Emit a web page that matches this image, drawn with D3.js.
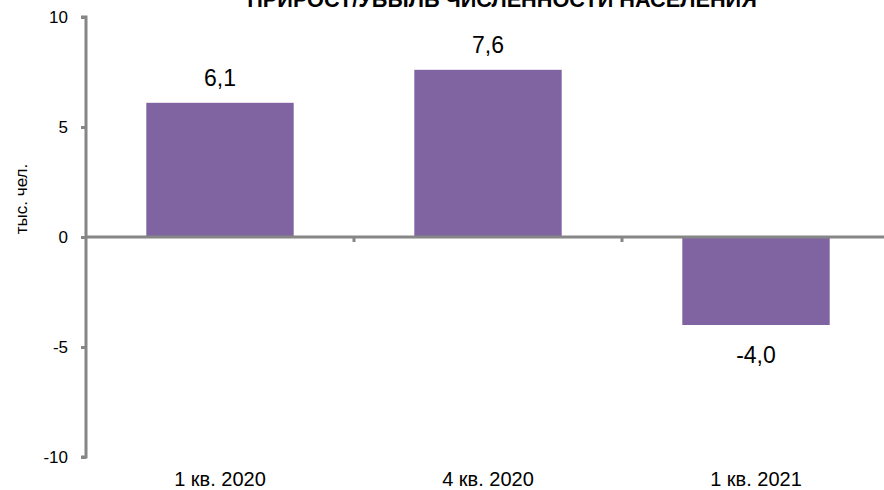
<!DOCTYPE html>
<html><head><meta charset="utf-8">
<script src="https://cdn.jsdelivr.net/npm/d3@7"></script>
<style>body{margin:0;background:#fff}svg{display:block}</style>
</head><body>
<script>
const categories = ["1 кв. 2020", "4 кв. 2020", "1 кв. 2021"];
const values = [6.1, 7.6, -4.0];
const yTicks = [-10, -5, 0, 5, 10];
const title = "ПРИРОСТ/УБЫЛЬ ЧИСЛЕННОСТИ НАСЕЛЕНИЯ";
const yLabel = "тыс. чел.";

const W = 884, H = 490;
const FONT = "Arial, 'Liberation Sans', sans-serif";
const svg = d3.select("body").append("svg").attr("width", W).attr("height", H)
  .style("font-family", FONT);

const x = d3.scaleBand().domain(categories).range([86, 890]).paddingInner(0.45).paddingOuter(0.225);
const y = d3.scaleLinear().domain([-10, 10]).range([457, 17]);
const gray = "#868686";
const fmt = v => v.toFixed(1).replace(".", ",");

// bars
svg.selectAll("rect.bar").data(values).join("rect").attr("class", "bar")
  .attr("x", (d, i) => x(categories[i]))
  .attr("width", x.bandwidth())
  .attr("y", d => y(Math.max(0, d)))
  .attr("height", d => Math.abs(y(d) - y(0)))
  .attr("fill", "#8064A2");

// y axis
const yAxis = svg.append("g").attr("transform", "translate(86,0)")
  .call(d3.axisLeft(y).tickValues(yTicks).tickSize(5).tickPadding(13).tickFormat(d => d));
yAxis.attr("font-family", FONT).attr("font-size", 17);
yAxis.select(".domain").attr("stroke", gray).attr("stroke-width", 3).attr("d", `M-5,${y(10)}H0V${y(-10)}H-5`);
yAxis.selectAll(".tick line").attr("stroke", gray).attr("stroke-width", 3);
yAxis.selectAll(".tick text").attr("fill", "#000");

// x axis at zero
const bounds = [x.range()[0], ...categories.slice(1).map(c => x(c) - x.step() * x.paddingInner() / 2)];
svg.append("line").attr("x1", 86).attr("x2", 890).attr("y1", y(0)).attr("y2", y(0))
  .attr("stroke", gray).attr("stroke-width", 3);
svg.selectAll("line.xt").data(bounds.slice(1)).join("line").attr("class", "xt")
  .attr("x1", d => d).attr("x2", d => d).attr("y1", y(0)).attr("y2", y(0) + 5)
  .attr("stroke", gray).attr("stroke-width", 3);

// category labels
svg.selectAll("text.cat").data(categories).join("text").attr("class", "cat")
  .attr("x", d => x(d) + x.bandwidth() / 2).attr("y", 486)
  .attr("text-anchor", "middle").attr("font-size", 20).text(d => d);

// value labels
svg.selectAll("text.val").data(values).join("text").attr("class", "val")
  .attr("x", (d, i) => x(categories[i]) + x.bandwidth() / 2)
  .attr("y", d => d >= 0 ? y(d) - 17 : y(d) + 38)
  .attr("text-anchor", "middle").attr("font-size", 23).text(fmt);

// y label
svg.append("text").attr("transform", "translate(27,199) rotate(-90)")
  .attr("text-anchor", "middle").attr("font-size", 17).text(yLabel);

// title (clipped at top)
svg.append("text").attr("x", 502).attr("y", 7).attr("text-anchor", "middle")
  .attr("font-size", 21.7).attr("font-weight", "bold").text(title);
</script>
</body></html>
